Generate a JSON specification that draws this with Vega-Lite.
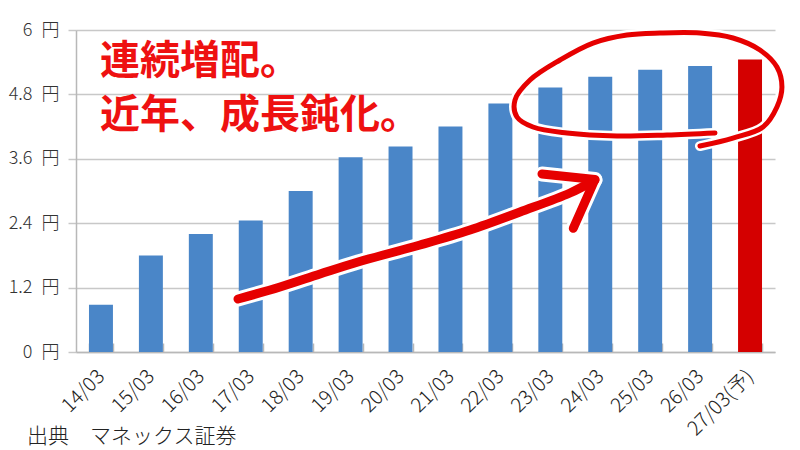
{
  "$schema": "https://vega.github.io/schema/vega-lite/v6.json",
  "width": 699,
  "height": 322,
  "autosize": {"type": "none"},
  "padding": {"left": 76, "top": 30, "right": 25, "bottom": 98},
  "background": "white",
  "config": {"view": {"stroke": null}, "font": "Noto Sans CJK JP"},
  "datasets": {
    "bars": [
      {"fy": "14/03", "dividend": 0.88, "kind": "実績"},
      {"fy": "15/03", "dividend": 1.8, "kind": "実績"},
      {"fy": "16/03", "dividend": 2.2, "kind": "実績"},
      {"fy": "17/03", "dividend": 2.45, "kind": "実績"},
      {"fy": "18/03", "dividend": 3.0, "kind": "実績"},
      {"fy": "19/03", "dividend": 3.63, "kind": "実績"},
      {"fy": "20/03", "dividend": 3.83, "kind": "実績"},
      {"fy": "21/03", "dividend": 4.2, "kind": "実績"},
      {"fy": "22/03", "dividend": 4.63, "kind": "実績"},
      {"fy": "23/03", "dividend": 4.93, "kind": "実績"},
      {"fy": "24/03", "dividend": 5.13, "kind": "実績"},
      {"fy": "25/03", "dividend": 5.26, "kind": "実績"},
      {"fy": "26/03", "dividend": 5.33, "kind": "実績"},
      {"fy": "27/03(予)", "dividend": 5.45, "kind": "予想"}
    ],
    "arrow": [
      {"i": 0, "x": 3.245, "y": 0.988},
      {"i": 1, "x": 4.086, "y": 1.211},
      {"i": 2, "x": 4.887, "y": 1.453},
      {"i": 3, "x": 5.648, "y": 1.677},
      {"i": 4, "x": 6.89, "y": 1.994},
      {"i": 5, "x": 7.891, "y": 2.273},
      {"i": 6, "x": 8.892, "y": 2.609},
      {"i": 7, "x": 9.894, "y": 2.963},
      {"i": 8, "x": 10.394, "y": 3.205}
    ],
    "head": [
      {"i": 0, "x": 9.333, "y": 3.317},
      {"i": 1, "x": 10.394, "y": 3.215},
      {"i": 2, "x": 9.96, "y": 2.305}
    ],
    "ellipse": [
      {"i": 0, "x": 12.497, "y": 3.838},
      {"i": 1, "x": 13.158, "y": 3.987},
      {"i": 2, "x": 13.759, "y": 4.192},
      {"i": 3, "x": 14.039, "y": 4.565},
      {"i": 4, "x": 14.139, "y": 4.938},
      {"i": 5, "x": 14.039, "y": 5.31},
      {"i": 6, "x": 13.699, "y": 5.627},
      {"i": 7, "x": 13.158, "y": 5.851},
      {"i": 8, "x": 12.497, "y": 5.944},
      {"i": 9, "x": 11.696, "y": 5.944},
      {"i": 10, "x": 11.035, "y": 5.907},
      {"i": 11, "x": 10.354, "y": 5.757},
      {"i": 12, "x": 9.694, "y": 5.441},
      {"i": 13, "x": 9.093, "y": 5.068},
      {"i": 14, "x": 8.792, "y": 4.695},
      {"i": 15, "x": 8.832, "y": 4.379},
      {"i": 16, "x": 9.153, "y": 4.192},
      {"i": 17, "x": 9.834, "y": 4.081},
      {"i": 18, "x": 10.835, "y": 4.025},
      {"i": 19, "x": 11.837, "y": 4.043},
      {"i": 20, "x": 12.798, "y": 4.081}
    ],
    "notes": [
      {"x": 0.48, "y": 5.403, "text": "連続増配。"},
      {"x": 0.48, "y": 4.397, "text": "近年、成長鈍化。"}
    ],
    "source": [
      {"x": -0.98, "y": -1.593, "text": "出典　マネックス証券"}
    ]
  },
  "layer": [
    {
      "data": {"name": "bars"},
      "mark": {"type": "bar"},
      "encoding": {
        "x": {
          "field": "fy", "type": "nominal", "sort": null,
          "scale": {"paddingInner": 0.52, "paddingOuter": 0.26},
          "axis": {
            "title": null, "labelAngle": -45, "labelFontSize": 20, "labelColor": "#222",
            "labelFont": "Noto Sans CJK JP", "labelFontWeight": 300, "labelAlign": "right", "labelBaseline": "middle",
            "tickBand": "extent", "tickSize": -9, "tickColor": "#b8b8b8", "tickWidth": 1.5,
            "domainColor": "#b8b8b8", "domainWidth": 1.5, "labelPadding": 30, "grid": false
          }
        },
        "y": {
          "field": "dividend", "type": "quantitative",
          "scale": {"domain": [0, 6], "nice": false},
          "axis": {
            "title": null, "values": [0, 1.2, 2.4, 3.6, 4.8, 6],
            "labelExpr": "datum.value + '\u2002円'",
            "grid": true, "gridColor": "#c8c8c8", "gridWidth": 1.5,
            "domainColor": "#b8b8b8", "domainWidth": 1.5,
            "tickColor": "#c8c8c8", "tickSize": 8, "tickWidth": 1.5,
            "labelFontSize": 18, "labelFontWeight": 300, "labelColor": "#333", "labelPadding": 9,
            "labelFont": "Noto Sans CJK JP"
          }
        },
        "color": {
          "field": "kind", "type": "nominal",
          "scale": {"domain": ["実績", "予想"], "range": ["#4a86c8", "#d40000"]},
          "legend": null
        }
      }
    },
    {
      "data": {"name": "ellipse"},
      "mark": {"type": "line", "stroke": "white", "strokeWidth": 10, "strokeCap": "round", "strokeJoin": "round", "interpolate": "catmull-rom"},
      "encoding": {
        "x": {"field": "x", "type": "quantitative", "scale": {"domain": [0, 14], "nice": false, "zero": false}, "axis": null},
        "y": {"field": "y", "type": "quantitative"},
        "order": {"field": "i"}
      }
    },
    {
      "data": {"name": "ellipse"},
      "mark": {"type": "line", "stroke": "#e60000", "strokeWidth": 5, "strokeCap": "round", "strokeJoin": "round", "interpolate": "catmull-rom"},
      "encoding": {
        "x": {"field": "x", "type": "quantitative", "scale": {"domain": [0, 14], "nice": false, "zero": false}, "axis": null},
        "y": {"field": "y", "type": "quantitative"},
        "order": {"field": "i"}
      }
    },
    {
      "data": {"name": "arrow"},
      "mark": {"type": "line", "stroke": "white", "strokeWidth": 15, "strokeCap": "round", "strokeJoin": "round", "interpolate": "catmull-rom"},
      "encoding": {
        "x": {"field": "x", "type": "quantitative", "scale": {"domain": [0, 14], "nice": false, "zero": false}, "axis": null},
        "y": {"field": "y", "type": "quantitative"},
        "order": {"field": "i"}
      }
    },
    {
      "data": {"name": "head"},
      "mark": {"type": "line", "stroke": "white", "strokeWidth": 15, "strokeCap": "round", "strokeJoin": "round"},
      "encoding": {
        "x": {"field": "x", "type": "quantitative", "scale": {"domain": [0, 14], "nice": false, "zero": false}, "axis": null},
        "y": {"field": "y", "type": "quantitative"},
        "order": {"field": "i"}
      }
    },
    {
      "data": {"name": "arrow"},
      "mark": {"type": "line", "stroke": "#e60000", "strokeWidth": 9, "strokeCap": "round", "strokeJoin": "round", "interpolate": "catmull-rom"},
      "encoding": {
        "x": {"field": "x", "type": "quantitative", "scale": {"domain": [0, 14], "nice": false, "zero": false}, "axis": null},
        "y": {"field": "y", "type": "quantitative"},
        "order": {"field": "i"}
      }
    },
    {
      "data": {"name": "head"},
      "mark": {"type": "line", "stroke": "#e60000", "strokeWidth": 9, "strokeCap": "round", "strokeJoin": "round"},
      "encoding": {
        "x": {"field": "x", "type": "quantitative", "scale": {"domain": [0, 14], "nice": false, "zero": false}, "axis": null},
        "y": {"field": "y", "type": "quantitative"},
        "order": {"field": "i"}
      }
    },
    {
      "data": {"name": "notes"},
      "mark": {"type": "text", "align": "left", "baseline": "middle", "fontSize": 40, "fontWeight": "bold", "color": "#ee1111", "font": "Noto Sans CJK JP"},
      "encoding": {
        "x": {"field": "x", "type": "quantitative", "scale": {"domain": [0, 14], "nice": false, "zero": false}, "axis": null},
        "y": {"field": "y", "type": "quantitative"},
        "text": {"field": "text"}
      }
    },
    {
      "data": {"name": "source"},
      "mark": {"type": "text", "align": "left", "baseline": "middle", "fontSize": 21, "fontWeight": 300, "color": "#222", "font": "Noto Sans CJK JP"},
      "encoding": {
        "x": {"field": "x", "type": "quantitative", "scale": {"domain": [0, 14], "nice": false, "zero": false}, "axis": null},
        "y": {"field": "y", "type": "quantitative"},
        "text": {"field": "text"}
      }
    }
  ],
  "resolve": {"scale": {"x": "independent", "color": "independent"}}
}
